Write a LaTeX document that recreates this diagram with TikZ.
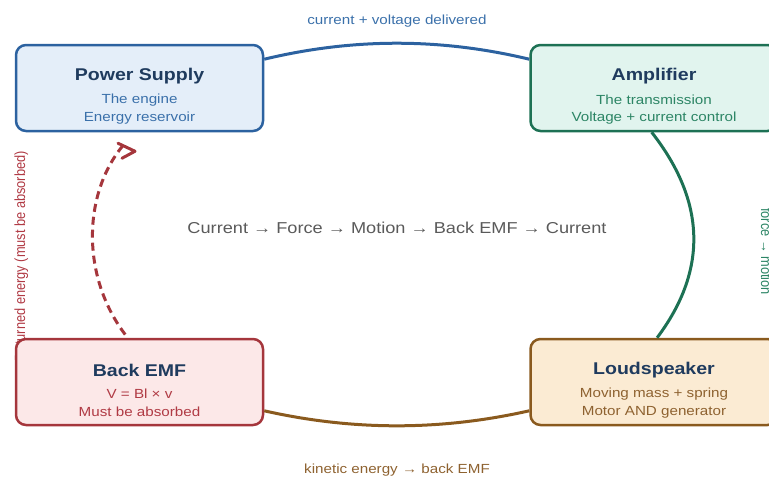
\documentclass[tikz,border=0pt]{standalone}
\usepackage{fontspec}
\setmainfont[FakeStretch=1.15]{Liberation Sans}
\newfontfamily\plainfont{Liberation Sans}
\usetikzlibrary{calc}
\definecolor{psfill}{HTML}{E4EEF9}
\definecolor{psdraw}{HTML}{2C62A0}
\definecolor{amfill}{HTML}{E1F4EE}
\definecolor{amdraw}{HTML}{1D7154}
\definecolor{bmfill}{HTML}{FCE8E8}
\definecolor{bmdraw}{HTML}{A5363C}
\definecolor{ldfill}{HTML}{FBEBD3}
\definecolor{lddraw}{HTML}{8A5A1E}
\definecolor{titlec}{HTML}{1F3B5E}
\definecolor{pstext}{HTML}{3A70AA}
\definecolor{amtext}{HTML}{2C8565}
\definecolor{bmtext}{HTML}{B03A44}
\definecolor{ldtext}{HTML}{8E6230}
\definecolor{centc}{HTML}{5A5A5A}
\tikzset{
  box/.style={rounded corners=10pt, line width=2.5pt, minimum width=247pt, minimum height=86pt, inner sep=0pt},
  conn/.style={line width=3pt},
  lbl/.style={font=\fontsize{13.2}{16}\selectfont, inner sep=0pt},
  ttl/.style={font=\fontsize{17}{20}\selectfont\bfseries, text=titlec},
  sub/.style={font=\fontsize{13.2}{16}\selectfont},
}
\newcommand{\vlabel}[1]{\scalebox{1}[1.15]{\plainfont\fontsize{12.8}{16}\selectfont #1}}
\begin{document}
\begin{tikzpicture}[x=1pt,y=-1pt]
\useasboundingbox (0,0) rectangle (769,477);
% rotated side labels (drawn first, boxes cover them)
\node[text=bmtext, inner sep=0pt, rotate=90, anchor=base east] (lblret) at (25,151) {\vlabel{Returned energy (must be absorbed)}};
\node[text=amtext, inner sep=0pt, rotate=-90, anchor=base west] (lblfm) at (761,208) {\vlabel{force → motion}};
% boxes
\node[box, fill=psfill, draw=psdraw] (ps) at (139.5,88) {};
\node[box, fill=amfill, draw=amdraw] (am) at (654,88) {};
\node[box, fill=bmfill, draw=bmdraw] (bm) at (139.5,382) {};
\node[box, fill=ldfill, draw=lddraw] (ld) at (654,382) {};
% connectors
\draw[conn, psdraw] (ps.13) .. controls +(89,-21.3) and +(-89,-21.3) .. (am.167);
\draw[conn, amdraw] (am.-93) .. controls +(54,69) and +(51,-68) .. (ld.86);
\draw[conn, lddraw] (ld.193.7) .. controls +(-89,20) and +(89,20) .. (bm.-13.7);
\draw[conn, bmdraw, dash pattern=on 8pt off 5pt, shorten <=4pt, shorten >=17pt] (bm.105) .. controls +(-47,-62) and +(-51,61) .. (ps.-97);
\coordinate (tip) at ($(ps.south)+(-4.5,19)$);
\draw[conn, bmdraw, line cap=round, line join=round] (tip) ++(-17,-8) -- (tip) -- ++(-13,7);
% box texts
\node[ttl] (pst) at (139.5,76) {Power Supply};
\node[sub, text=pstext] (ps1) at (139.5,100) {The engine};
\node[sub, text=pstext] (ps2) at (139.5,118) {Energy reservoir};
\node[ttl] (amt) at (654,76) {Amplifier};
\node[sub, text=amtext] (am1) at (654,100) {The transmission};
\node[sub, text=amtext] (am2) at (654,118) {Voltage + current control};
\node[ttl] (bmt) at (139.5,370) {Back EMF};
\node[sub, text=bmtext] (bm1) at (139.5,394) {V = Bl × v};
\node[sub, text=bmtext] (bm2) at (139.5,412) {Must be absorbed};
\node[ttl] (ldt) at (654,370) {Loudspeaker};
\node[sub, text=ldtext] (ld1) at (654,394) {Moving mass + spring};
\node[sub, text=ldtext] (ld2) at (654,412) {Motor AND generator};
% edge labels
\node[lbl, text=pstext] (lblcv) at (397,21.5) {current + voltage delivered};
\node[lbl, text=ldtext] (lblke) at (397,470.5) {kinetic energy → back EMF};
% center
\node[font=\fontsize{15.8}{19}\selectfont, text=centc] (center) at (397,228) {Current → Force → Motion → Back EMF → Current};
\end{tikzpicture}
\end{document}
